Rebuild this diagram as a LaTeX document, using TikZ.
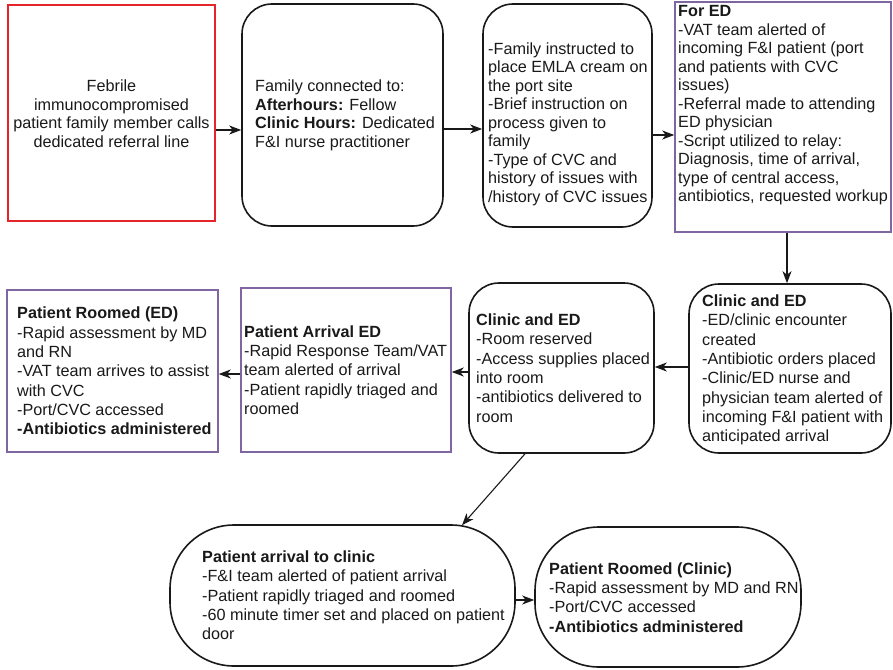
\documentclass[tikz,border=0pt]{standalone}
\usepackage{fontspec}
\setmainfont{Liberation Sans}
\usetikzlibrary{arrows.meta}
\definecolor{boxred}{RGB}{228,38,44}
\definecolor{boxpurple}{RGB}{128,102,160}
\definecolor{ink}{RGB}{25,25,25}
\begin{document}
\begin{tikzpicture}[x=1pt,y=-1pt,
  box/.style={draw=ink,line width=1.6pt,inner sep=0pt,minimum width=#1},
  rbox/.style={box=#1,rounded corners=30pt},
  sbox/.style={box=#1,rounded corners=64pt},
  redbox/.style={draw=boxred,line width=1.3pt,inner sep=0pt,minimum width=#1},
  purbox/.style={draw=boxpurple,line width=1.5pt,inner sep=0pt,minimum width=#1},
  txt/.style={inner sep=0pt,anchor=west,align=left,text=ink,font=\fontsize{16.2}{19.3}\selectfont},
  ttxt/.style={txt,font=\fontsize{16.2}{18.5}\selectfont},
  arr/.style={draw=ink,line width=1.1pt,-{Stealth[length=12pt,width=9pt,inset=3.5pt]}}]
\useasboundingbox (0,0) rectangle (893,669);
% boxes
\node[redbox=207pt,minimum height=216pt] (b1) at (111.5,113) {};
\node[rbox=201pt,minimum height=222pt] (b2) at (342.5,115) {};
\node[rbox=169pt,minimum height=223pt] (b3) at (567.5,115.5) {};
\node[purbox=216pt,minimum height=230pt] (b4) at (783,117) {};
\node[rbox=202pt,minimum height=169pt] (b5) at (790,368.5) {};
\node[rbox=185pt,minimum height=170pt] (b6) at (561.5,368) {};
\node[purbox=210pt,minimum height=164pt] (b7) at (346,370) {};
\node[purbox=211pt,minimum height=162pt] (b8) at (112.5,371) {};
\node[sbox=345pt,minimum height=141pt] (b9) at (342.5,595.5) {};
\node[sbox=266pt,minimum height=140pt] (b10) at (668,597) {};
% texts
\node[ttxt,anchor=center,align=center] (t1) at (111.5,113.5) {Febrile\\immunocompromised\\patient family member calls\\dedicated referral line};
\node[ttxt] (t2) at (255,115.5) {Family connected to:\\\textbf{Afterhours:} Fellow\\\textbf{Clinic Hours:} Dedicated\\F\&I nurse practitioner};
\node[ttxt] (t3) at (488,124) {-Family instructed to\\place EMLA cream on\\the port site\\-Brief instruction on\\process given to\\family\\-Type of CVC and\\history of issues with\\/history of CVC issues};
\node[ttxt] (t4) at (678,105.5) {\textbf{For ED}\\-VAT team alerted of\\incoming F\&I patient (port\\and patients with CVC\\issues)\\-Referral made to attending\\ED physician\\-Script utilized to relay:\\Diagnosis, time of arrival,\\type of central access,\\antibiotics, requested workup};
\node[txt] (t5) at (702,370) {\textbf{Clinic and ED}\\-ED/clinic encounter\\created\\-Antibiotic orders placed\\-Clinic/ED nurse and\\physician team alerted of\\incoming F\&I patient with\\anticipated arrival};
\node[txt] (t6) at (476,368) {\textbf{Clinic and ED}\\-Room reserved\\-Access supplies placed\\into room\\-antibiotics delivered to\\room};
\node[txt] (t7) at (244,370) {\textbf{Patient Arrival ED}\\-Rapid Response Team/VAT\\team alerted of arrival\\-Patient rapidly triaged and\\roomed};
\node[txt] (t8) at (17,371) {\textbf{Patient Roomed (ED)}\\-Rapid assessment by MD\\and RN\\-VAT team arrives to assist\\with CVC\\-Port/CVC accessed\\\textbf{-Antibiotics administered}};
\node[txt] (t9) at (202,595.5) {\textbf{Patient arrival to clinic}\\-F\&I team alerted of patient arrival\\-Patient rapidly triaged and roomed\\-60 minute timer set and placed on patient\\door};
\node[txt] (t10) at (549,597.5) {\textbf{Patient Roomed (Clinic)}\\-Rapid assessment by MD and RN\\-Port/CVC accessed\\\textbf{-Antibiotics administered}};
% connectors
\draw[arr] ([yshift=-17pt]b1.east) -- ([yshift=-15pt]b2.west);
\draw[arr] ([yshift=-14pt]b2.east) -- ([yshift=-13.5pt]b3.west);
\draw[arr] ([yshift=-19.5pt]b3.east) -- ([yshift=-18pt]b4.west);
\draw[arr] ([xshift=4pt]b4.south) -- ([xshift=-3pt]b5.north);
\draw[arr] ([yshift=1.5pt]b5.west) -- ([yshift=1pt]b6.east);
\draw[arr] ([yshift=-4pt]b6.west) -- ([yshift=-2pt]b7.east);
\draw[arr] ([yshift=-4pt]b7.west) -- ([yshift=-3pt]b8.east);
\draw[arr] ([xshift=-36.5pt]b6.south) -- ([xshift=119.5pt,yshift=-1pt]b9.north);
\draw[arr] ([yshift=-4.5pt]b9.east) -- ([yshift=-3pt]b10.west);
\end{tikzpicture}
\end{document}
